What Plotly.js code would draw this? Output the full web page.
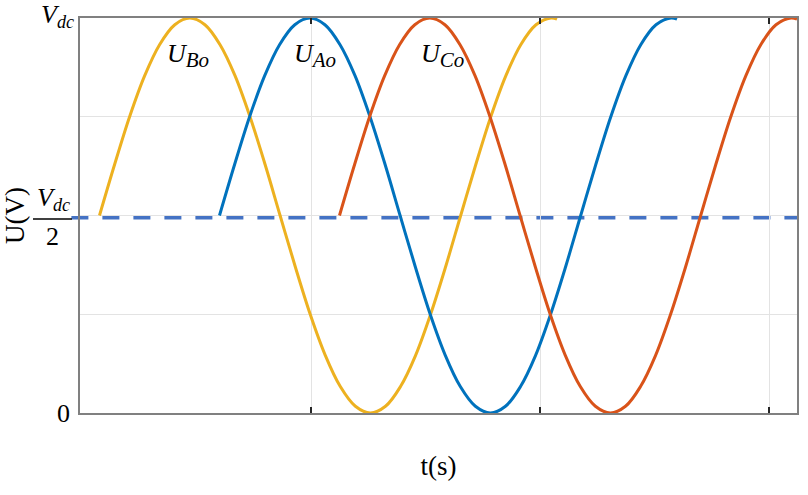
<!DOCTYPE html>
<html><head><meta charset="utf-8">
<script src="https://cdn.plot.ly/plotly-3.0.1.min.js"></script>
<style>html,body{margin:0;padding:0;background:#fff}#chart{width:808px;height:495px}</style>
</head><body><div id="chart"></div><script>
// time axis (arbitrary units, ~1 unit per electrical degree)
const tBo = [19.5,34.6,49.6,64.7,79.7,94.8,109.8,124.9,139.9,155.0,170.0,185.1,200.1,215.2,230.2,245.3,260.3,275.4,290.4,305.5,320.5,335.6,350.6,365.7,380.7,395.8,410.8,425.9,440.9,456.0,471.0,477.0];
const tAo = [139.5,154.6,169.6,184.7,199.7,214.8,229.8,244.9,259.9,275.0,290.0,305.1,320.1,335.2,350.2,365.3,380.3,395.4,410.4,425.5,440.5,455.6,470.6,485.7,500.7,515.8,530.8,545.9,560.9,576.0,591.0,597.0];
const tCo = [259.5,274.6,289.6,304.7,319.7,334.8,349.8,364.9,379.9,395.0,410.0,425.1,440.1,455.2,470.2,485.3,500.3,515.4,530.4,545.5,560.5,575.6,590.6,605.7,620.7,635.8,650.8,665.9,680.9,696.0,711.0,717.0];
// voltages as fraction of Vdc
const uBo = [0.500,0.629,0.750,0.854,0.933,0.983,1.000,0.983,0.933,0.854,0.750,0.629,0.500,0.371,0.250,0.146,0.067,0.017,0.000,0.017,0.067,0.146,0.250,0.371,0.500,0.629,0.750,0.854,0.933,0.983,1.000,0.997];
const uAo = [0.500,0.629,0.750,0.854,0.933,0.983,1.000,0.983,0.933,0.854,0.750,0.629,0.500,0.371,0.250,0.146,0.067,0.017,0.000,0.017,0.067,0.146,0.250,0.371,0.500,0.629,0.750,0.854,0.933,0.983,1.000,0.997];
const uCo = [0.500,0.629,0.750,0.854,0.933,0.983,1.000,0.983,0.933,0.854,0.750,0.629,0.500,0.371,0.250,0.146,0.067,0.017,0.000,0.017,0.067,0.146,0.250,0.371,0.500,0.629,0.750,0.854,0.933,0.983,1.000,0.997];
const midLevel = [0.494];
const xGrid = [231, 460, 689];
const yGrid = [0.25, 0.5, 0.75];
const seriesNames = ['U<sub><span style="font-size:21px">Bo</span></sub>', 'U<sub><span style="font-size:21px">Ao</span></sub>', 'U<sub><span style="font-size:21px">Co</span></sub>'];

const serif = 'Liberation Serif';
const mk = (x, y, c, n) => ({x: x, y: y, type: 'scatter', mode: 'lines', name: n,
  line: {color: c, width: 3, shape: 'spline', smoothing: 1}, hoverinfo: 'skip'});

const data = [
  mk(tBo, uBo, '#EDB120', seriesNames[0]),
  mk(tAo, uAo, '#0072BD', seriesNames[1]),
  mk(tCo, uCo, '#D95319', seriesNames[2])
];

const layout = {
  width: 808, height: 495,
  margin: {l: 80, r: 11, t: 18, b: 82, pad: 0},
  paper_bgcolor: '#fff', plot_bgcolor: '#fff',
  showlegend: false,
  font: {family: serif, color: '#000'},
  xaxis: {range: [0, 717], tickmode: 'array', tickvals: xGrid, showticklabels: false,
    ticks: 'inside', ticklen: 6, tickwidth: 1.5, tickcolor: '#262626',
    showgrid: true, gridcolor: '#e3e3e3', gridwidth: 1, zeroline: false,
    showline: true, linecolor: '#808080', linewidth: 2, mirror: 'ticks',
    title: {text: 't(s)', font: {family: serif, size: 27, color: '#000'}, standoff: 42}},
  yaxis: {range: [0, 1], tickmode: 'array', tickvals: yGrid, showticklabels: false,
    ticks: '', showgrid: true, gridcolor: '#e3e3e3', gridwidth: 1, zeroline: false,
    showline: true, linecolor: '#808080', linewidth: 2, mirror: true,
    title: {text: 'U(V)', font: {family: serif, size: 27, color: '#000'}, standoff: 52}},
  shapes: [
    {type: 'line', layer: 'between', xref: 'paper', x0: -0.012, x1: 1, yref: 'y', y0: midLevel[0], y1: midLevel[0],
     line: {color: '#4472C4', width: 3.5, dash: '17px,14px'}},
    {type: 'line', xref: 'paper', x0: -0.0656, x1: -0.0112, yref: 'y', y0: 0.491, y1: 0.491,
     line: {color: '#000', width: 1.5}}
  ],
  annotations: [
    {text: '<i>V<sub>dc</sub></i>', xref: 'paper', x: -0.005, xanchor: 'right', yref: 'y', y: 1, yanchor: 'middle', yshift: 2,
     showarrow: false, font: {family: serif, size: 26, color: '#000'}},
    {text: '<i>V<sub>dc</sub></i>', xref: 'paper', x: -0.011, xanchor: 'right', yref: 'y', y: 0.542, yanchor: 'middle',
     showarrow: false, font: {family: serif, size: 26, color: '#000'}},
    {text: '2', xref: 'paper', x: -0.039, xanchor: 'center', yref: 'y', y: 0.446, yanchor: 'middle',
     showarrow: false, font: {family: serif, size: 26, color: '#000'}},
    {text: '0', xref: 'paper', x: -0.011, xanchor: 'right', yref: 'y', y: 0, yanchor: 'middle',
     showarrow: false, font: {family: serif, size: 26, color: '#000'}},
    {text: '<i>' + seriesNames[0] + '</i>', x: 108, y: 0.905, xref: 'x', yref: 'y', showarrow: false,
     font: {family: serif, size: 26, color: '#000'}},
    {text: '<i>' + seriesNames[1] + '</i>', x: 235, y: 0.905, xref: 'x', yref: 'y', showarrow: false,
     font: {family: serif, size: 26, color: '#000'}},
    {text: '<i>' + seriesNames[2] + '</i>', x: 362, y: 0.905, xref: 'x', yref: 'y', showarrow: false,
     font: {family: serif, size: 26, color: '#000'}}
  ]
};

Plotly.newPlot('chart', data, layout, {displayModeBar: false, staticPlot: true});
</script></body></html>
